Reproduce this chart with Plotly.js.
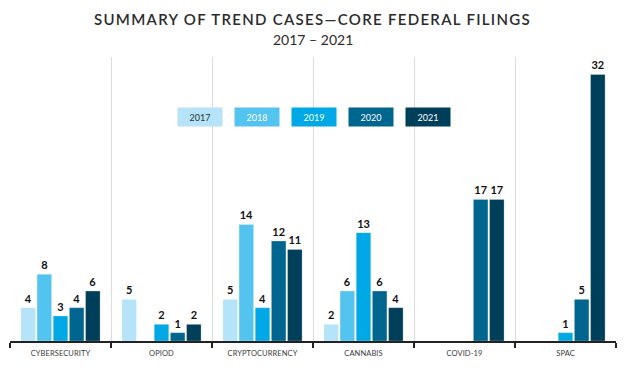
<!DOCTYPE html>
<html>
<head>
<meta charset="utf-8">
<script src="https://cdn.plot.ly/plotly-3.0.1.min.js"></script>
<style>
html,body{margin:0;padding:0;background:#fff;}
#chart{width:625px;height:375px;}
#chart .gtitle{letter-spacing:1.3px;}
#chart .xtick text{letter-spacing:0.1px;}
</style>
</head>
<body>
<div id="chart"></div>
<script>
const categories = ["CYBERSECURITY", "OPIOD", "CRYPTOCURRENCY", "CANNABIS", "COVID-19", "SPAC"];
const years = ["2017", "2018", "2019", "2020", "2021"];
const v2017 = [4, 5, 5, 2, null, null];
const v2018 = [8, null, 14, 6, null, null];
const v2019 = [3, 2, 4, 13, null, 1];
const v2020 = [4, 1, 12, 6, 17, 5];
const v2021 = [6, 2, 11, 4, 17, 32];
const seriesValues = [v2017, v2018, v2019, v2020, v2021];
const colors = ["#b5e3f8", "#53c3ef", "#00a8e6", "#00658f", "#003f5a"];
const legendTextColors = ["#333333", "#ffffff", "#ffffff", "#ffffff", "#ffffff"];
const titleText = "SUMMARY OF TREND CASES—CORE FEDERAL FILINGS";
const subtitleText = "2017 – 2021";

const font = "Lato, 'Open Sans', sans-serif";

const traces = years.map((y, i) => ({
  type: "bar",
  name: y,
  x: categories,
  y: seriesValues[i],
  marker: {color: colors[i], line: {color: "rgba(255,255,255,0.5)", width: 0.5}},
  text: seriesValues[i].map(v => v == null ? "" : String(v)),
  textposition: "outside",
  textfont: {family: font, size: 11, color: "#111", weight: 700},
  constraintext: "none",
  cliponaxis: false,
  hoverinfo: "x+y+name"
}));

const legendAnnotations = years.map((y, i) => ({
  xref: "paper", yref: "paper",
  x: 0.3135 + i * 0.094, y: 0.789,
  xanchor: "center", yanchor: "middle",
  text: y,
  showarrow: false,
  font: {family: font, size: 9, color: legendTextColors[i]},
  bgcolor: colors[i],
  width: 40, height: 14, borderpad: 2
}));

const subtitleAnnotation = {
  xref: "paper", yref: "paper",
  x: 0.5, y: 1, yshift: 18,
  xanchor: "center", yanchor: "middle",
  text: subtitleText,
  showarrow: false,
  font: {family: font, size: 14, color: "#2b2b2b"}
};

const layout = {
  width: 625, height: 375,
  margin: {l: 10, r: 9, t: 57, b: 34},
  paper_bgcolor: "#fff", plot_bgcolor: "#fff",
  showlegend: false,
  barmode: "group",
  bargap: 0.2,
  bargroupgap: 0.1,
  title: {
    text: titleText,
    font: {family: font, size: 15, color: "#2b2b2b", weight: 600},
    x: 0.5, xanchor: "center", y: 0.947, yanchor: "middle", yref: "container"
  },
  xaxis: {
    type: "category",
    tickson: "boundaries",
    showgrid: true, gridcolor: "#dcdcdc", gridwidth: 1,
    showline: true, linecolor: "#222", linewidth: 1.5,
    ticks: "outside", ticklen: 5, tickcolor: "#222", tickwidth: 1.5,
    ticklabelstandoff: 4,
    tickfont: {family: font, size: 7.5, color: "#3a3a3a"},
    fixedrange: true
  },
  yaxis: {
    range: [0, 34.1],
    showgrid: false, zeroline: false, showticklabels: false, showline: false,
    fixedrange: true
  },
  annotations: legendAnnotations.concat([subtitleAnnotation])
};

Plotly.newPlot("chart", traces, layout, {displayModeBar: false, staticPlot: true});
</script>
</body>
</html>
